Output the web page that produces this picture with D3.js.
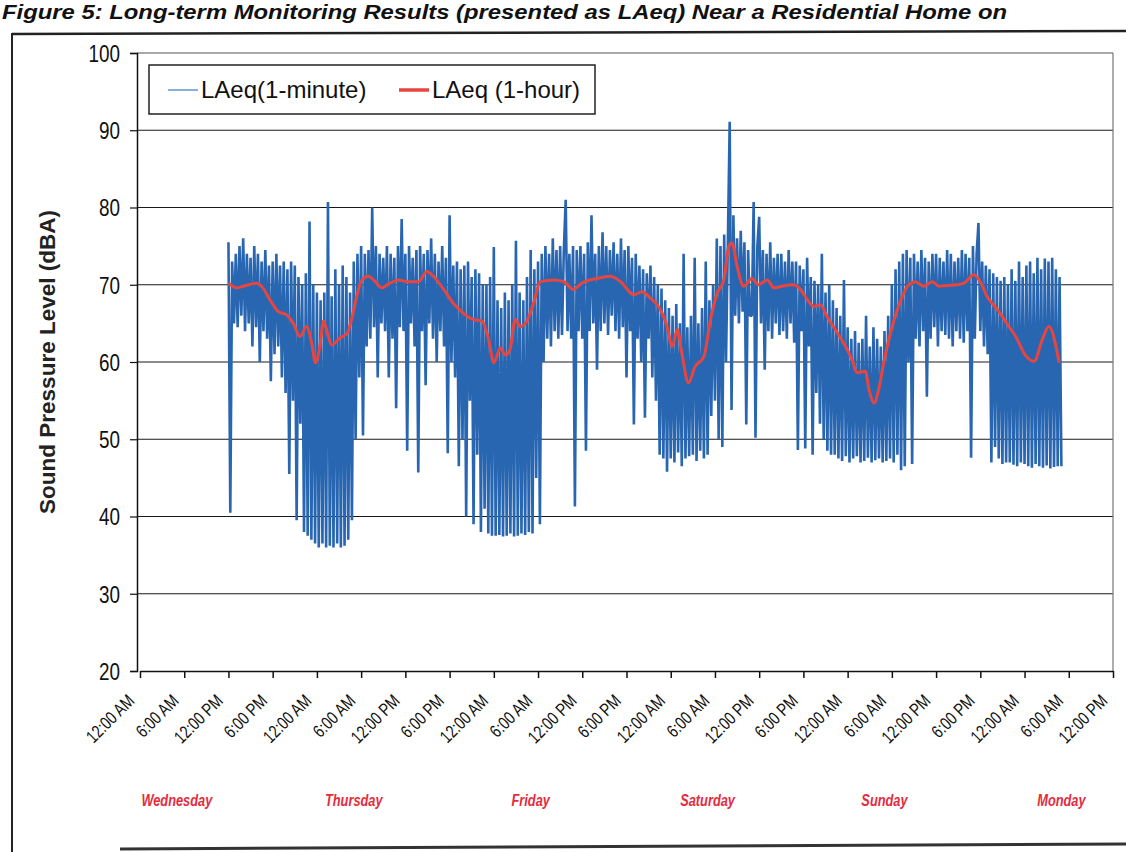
<!DOCTYPE html>
<html><head><meta charset="utf-8">
<script src="https://cdn.jsdelivr.net/npm/d3@7"></script>
<style>body{margin:0;background:#fff}svg{display:block}</style>
</head><body><svg id="c" width="1126" height="852"></svg>
<script>
// ---------------- data ----------------
const titleText = "Figure 5: Long-term Monitoring Results (presented as LAeq) Near a Residential Home on";
const yLabel = "Sound Pressure Level (dBA)";
const seriesNames = ["LAeq(1-minute)", "LAeq (1-hour)"];
const dayNames = ["Wednesday", "Thursday", "Friday", "Saturday", "Sunday", "Monday"];
const yTicks = [20, 30, 40, 50, 60, 70, 80, 90, 100];

// 1-minute LAeq, every 15 minutes, starting Wednesday 12:00 PM (hour 12)
const minuteStartHour = 12;
const minuteStepHours = 0.25;
const minuteValues = [
  75.5, 40.5, 73, 65,      // h12
  74, 64.5, 75, 66,
  76, 64, 74, 65,
  73.5, 62, 75, 64.5,
  74, 60, 73, 64,
  74.5, 63, 72.5, 57.5,
  73, 61, 74, 62,
  72.5, 58, 73, 56,
  72, 45.5, 73, 55,        // h20
  72.5, 39.5, 71, 52,
  70, 38, 71.5, 37.5,
  78.2, 37, 70, 36.5,
  69, 36, 68, 36.5,        // h24 Thu
  69, 36, 80.7, 36.2,
  68.5, 36, 72, 36.5,
  70, 36, 72.5, 36.2,
  71, 37, 69, 39.5,
  73, 50, 74, 58,
  75, 50.5, 74, 62,        // h30
  74.5, 63, 80, 64.5,
  75, 58, 74, 65,
  73.5, 64, 75, 58,
  74, 63, 73.5, 54,
  75, 64.5, 78.5, 64,
  74, 48.5, 75, 65,
  73.5, 62, 74.5, 45.7,
  75, 64, 74, 57,
  74.5, 65, 76, 63,
  74, 60, 73, 64,          // h40
  75, 62, 73.5, 48.2,
  79, 60, 72.5, 58,
  73, 46.5, 72, 50,
  72.5, 40, 73, 55,
  71, 39, 72, 48,
  71.5, 38, 70, 41,
  70, 37.8, 71, 37.5,
  74.9, 37.5, 68, 37.6,    // h48 Fri
  67, 37.4, 69, 37.5,
  68, 37.8, 70, 37.4,      // h50
  75.7, 37.5, 69, 37.8,
  68, 37.6, 71, 38,
  74.5, 37.8, 72, 45,
  73, 39, 74, 60,
  75, 63, 74, 62,
  76, 64, 74.5, 63,
  75, 63.5, 74.5, 81,
  64, 74, 63, 75,
  41.3, 74.5, 64, 75,
  63, 74, 48.5, 75.5,      // h60
  64, 79, 65, 74,
  59, 75, 64, 76.8,
  65, 75, 63.5, 74.5,
  66, 75.5, 64, 74,
  63, 76, 64.5, 74.5,
  58, 75, 64, 73.5,
  51.9, 74, 63, 72.5,
  60, 72, 52.8, 71.5,
  63, 72.5, 58, 71,
  55, 70, 48, 69.5,        // h70
  47.5, 68, 45.8, 67,
  47.5, 66, 47, 67.5,      // h72 Sat
  48.3, 65, 46.5, 74,
  47.5, 64.5, 47.8, 66,
  48, 73.5, 47.2, 65,
  48.5, 67, 47.5, 73,
  48, 68, 53, 70,
  55, 76, 50, 75,
  49, 76.5, 60, 75.5,
  91.1, 53.8, 79, 66,      // h80
  76, 65, 77, 66.5,
  75.5, 51.9, 74.5, 66,
  66, 80.7, 50.2, 75,
  78.8, 65, 74.5, 59,
  74, 64, 75.5, 63,
  73.5, 65, 74, 63.5,
  74, 64, 73, 63,
  74.5, 65, 73, 62.5,
  73, 48.6, 72.5, 64,
  72, 48.8, 73.5, 62,      // h90
  71, 48, 70.5, 56,
  70, 52, 74, 50,
  69, 48.5, 70, 48,
  68, 48, 67, 47.5,
  66, 47.2, 70.6, 47.8,
  64.5, 47, 63, 47.5,      // h96 Sun
  64, 47.8, 62.5, 47,
  63, 47.2, 66, 47.6,
  62, 47, 64.5, 47.3,
  63, 47.5, 62, 47,        // h100
  64, 47.2, 66, 47.5,
  70, 47, 72, 48,
  73, 46, 74, 46.5,
  74.5, 60, 73.5, 46.8,
  74, 63, 73, 62,
  74.5, 64, 73.5, 55.5,
  73, 63, 74, 64.5,
  74, 62, 73.5, 64,
  73, 63.5, 74.5, 63,
  74, 62, 73, 64,          // h110
  73.5, 63, 74.5, 62.5,
  74, 64, 73.5, 47.6,
  75, 63, 74, 78,
  64, 73, 62, 72.5,
  61, 72, 47, 71.5,
  49, 71, 47.5, 70.5,
  46.8, 71, 47, 70,
  47, 72, 46.7, 70.5,
  46.5, 73, 47, 71,
  46.8, 72.5, 46.5, 73,    // h120 Mon
  46.3, 71.5, 46.8, 73.5,
  46.5, 72, 46.3, 73.4,
  46.6, 73, 46.2, 73.5,
  46.4, 72, 46.5, 71,
  46.5
];

// 1-hour LAeq (hours after Wednesday 12:00 AM)
const hourlyHours = [12.0,13.1,14.0,15.8,16.5,17.6,18.8,19.9,20.8,21.7,22.6,23.3,23.8,24.4,24.9,25.3,26.0,27.1,28.1,28.7,29.4,30.1,31.0,31.9,32.8,33.9,35.1,36.2,37.8,38.9,39.8,41.2,42.5,43.9,45.2,46.4,47.3,48.0,48.9,49.6,50.2,50.9,51.6,52.3,53.4,54.3,56.1,57.5,58.8,59.9,62.0,63.8,65.2,67.0,68.1,69.2,70.6,71.5,72.2,72.9,73.5,74.4,75.3,76.5,77.4,78.3,79.2,79.9,80.3,81.0,81.9,83.0,83.9,85.1,86.0,87.1,88.5,89.6,90.5,91.4,92.3,93.2,94.3,95.5,96.6,97.3,98.4,98.9,99.6,100.2,100.9,101.8,102.9,104.3,105.2,106.3,107.5,108.4,109.5,110.9,111.8,113.1,114.0,114.9,116.3,117.6,118.8,120.1,121.3,122.4,123.3,124.7];
const hourlyValues = [70.2,69.6,69.8,70.2,69.8,68.1,66.5,66.1,65.0,63.3,64.6,62.4,59.9,62.0,65.3,64.2,62.2,63.1,63.7,65.5,68.5,70.6,71.1,70.4,69.6,70.2,70.6,70.4,70.4,71.7,71.1,69.4,67.6,66.3,65.5,65.3,62.9,59.9,61.8,60.9,61.6,65.5,64.6,65.0,67.6,70.4,70.6,70.4,69.4,70.2,70.8,71.1,70.4,68.7,69.1,68.3,66.8,64.6,62.0,64.2,61.2,57.3,59.4,60.7,65.5,68.9,70.6,75.0,75.4,72.4,69.8,70.8,70.0,70.6,69.6,69.8,70.0,69.4,68.1,67.2,67.4,65.9,64.2,62.4,60.3,58.6,58.8,56.4,54.7,56.4,59.9,63.7,67.2,70.0,70.4,69.8,70.4,69.8,69.9,70.0,70.2,71.3,70.4,68.5,66.8,65.0,63.3,60.9,60.1,62.9,64.6,59.9];

// ---------------- chart ----------------
const svg = d3.select("#c");
svg.append("rect").attr("width", 1126).attr("height", 852).attr("fill", "#fff");

const t0 = new Date(2008, 0, 2, 0, 0);           // a Wednesday, 12:00 AM
const hourToDate = h => d3.timeMinute.offset(t0, Math.round(h * 60));
const x = d3.scaleTime().domain([t0, hourToDate(132)]).range([140, 1113]);
const y = d3.scaleLinear().domain([20, 100]).range([671, 53]);

const sans = "'Liberation Sans',Arial,sans-serif";
// condense text horizontally (the reference uses a narrow face)
function condense(sel, f) {
  sel.each(function () {
    const L = this.getComputedTextLength();
    d3.select(this).attr("textLength", L * f).attr("lengthAdjust", "spacingAndGlyphs");
  });
}

// outer figure frame
svg.append("line").attr("x1", 12).attr("y1", 33).attr("x2", 12).attr("y2", 852).attr("stroke", "#222").attr("stroke-width", 2);
svg.append("line").attr("x1", 12).attr("y1", 34).attr("x2", 1126).attr("y2", 31).attr("stroke", "#222").attr("stroke-width", 2.5);
svg.append("line").attr("x1", 120).attr("y1", 849).attr("x2", 1126).attr("y2", 844).attr("stroke", "#333").attr("stroke-width", 3);

// title
svg.append("text").attr("x", 2).attr("y", 19)
  .attr("font-family", sans).attr("font-weight", "bold").attr("font-style", "italic")
  .attr("font-size", 20).attr("textLength", 1005).attr("lengthAdjust", "spacingAndGlyphs")
  .attr("fill", "#111").text(titleText);

// gridlines
svg.append("g").selectAll("line").data(yTicks.filter(v => v > 20 && v < 100)).join("line")
  .attr("x1", 137).attr("x2", 1113).attr("y1", d => y(d)).attr("y2", d => y(d))
  .attr("stroke", "#1a1a1a").attr("stroke-width", 1.2);
// plot border (top & right)
svg.append("line").attr("x1", 137).attr("x2", 1113).attr("y1", y(100)).attr("y2", y(100)).attr("stroke", "#555").attr("stroke-width", 1.2);
svg.append("line").attr("x1", 1113).attr("x2", 1113).attr("y1", y(100)).attr("y2", y(20)).attr("stroke", "#777").attr("stroke-width", 1.2);

// 1-minute series
const minutePts = minuteValues.map((v, i) => [hourToDate(minuteStartHour + i * minuteStepHours), v]);
svg.append("path").datum(minutePts)
  .attr("fill", "none").attr("stroke", "#2866b1").attr("stroke-width", 2.6).attr("stroke-linejoin", "bevel")
  .attr("d", d3.line().x(d => x(d[0])).y(d => y(d[1])));

// 1-hour series
const hourPts = hourlyHours.map((h, i) => [hourToDate(h), hourlyValues[i]]);
svg.append("path").datum(hourPts)
  .attr("fill", "none").attr("stroke", "#e8453f").attr("stroke-width", 3).attr("stroke-linejoin", "round")
  .attr("d", d3.line().curve(d3.curveMonotoneX).x(d => x(d[0])).y(d => y(d[1])));

// y axis
const yAxis = svg.append("g").attr("transform", "translate(137,0)")
  .call(d3.axisLeft(y).tickValues(yTicks).tickSize(7).tickPadding(10));
yAxis.select(".domain").attr("stroke", "#111").attr("stroke-width", 1.5);
yAxis.selectAll(".tick line").attr("stroke", "#111").attr("stroke-width", 1.2);
yAxis.selectAll("text").attr("font-family", sans).attr("font-size", 23).attr("fill", "#111").attr("dy", "0.36em");
condense(yAxis.selectAll("text"), 0.82);

// x axis
const xAxis = svg.append("g").attr("transform", `translate(0,${y(20)})`)
  .call(d3.axisBottom(x).ticks(d3.timeHour.every(6)).tickFormat(d3.timeFormat("%-I:%M %p")).tickSize(7).tickSizeOuter(0));
xAxis.select(".domain").attr("stroke", "#111").attr("stroke-width", 1.5);
xAxis.selectAll(".tick line").attr("stroke", "#111").attr("stroke-width", 1.5);
xAxis.selectAll("text")
  .attr("font-family", sans).attr("font-size", 18).attr("fill", "#111")
  .attr("text-anchor", "end").attr("x", 0).attr("y", 0).attr("dy", 0)
  .attr("transform", "translate(-5,31) rotate(-45)");
condense(xAxis.selectAll("text"), 0.78);

// day labels
const days = svg.append("g").selectAll("text").data(dayNames).join("text")
  .attr("x", (d, i) => x(hourToDate(i * 24 + 5))).attr("y", 806)
  .attr("text-anchor", "middle")
  .attr("font-family", sans).attr("font-weight", "bold").attr("font-style", "italic")
  .attr("font-size", 16).attr("fill", "#e52b3e").text(d => d);
condense(days, 0.8);

// y axis title
svg.append("text").attr("transform", "translate(55,362) rotate(-90)")
  .attr("text-anchor", "middle").attr("font-family", sans).attr("font-weight", "bold")
  .attr("font-size", 22.5).attr("fill", "#222").text(yLabel);

// legend
const lg = svg.append("g");
lg.append("rect").attr("x", 149).attr("y", 65).attr("width", 446).attr("height", 49)
  .attr("fill", "#fff").attr("stroke", "#222").attr("stroke-width", 1.5);
const legendColors = ["#7aa9d9", "#e8453f"];
const legendWidths = [1.8, 3.5];
const legendX = [168, 399];
seriesNames.forEach((name, i) => {
  lg.append("line").attr("x1", legendX[i]).attr("x2", legendX[i] + 30).attr("y1", 90).attr("y2", 90)
    .attr("stroke", legendColors[i]).attr("stroke-width", legendWidths[i]);
  lg.append("text").attr("x", legendX[i] + 33).attr("y", 98)
    .attr("font-family", sans).attr("font-size", 24).attr("fill", "#111").text(name);
});
</script>
</body></html>
